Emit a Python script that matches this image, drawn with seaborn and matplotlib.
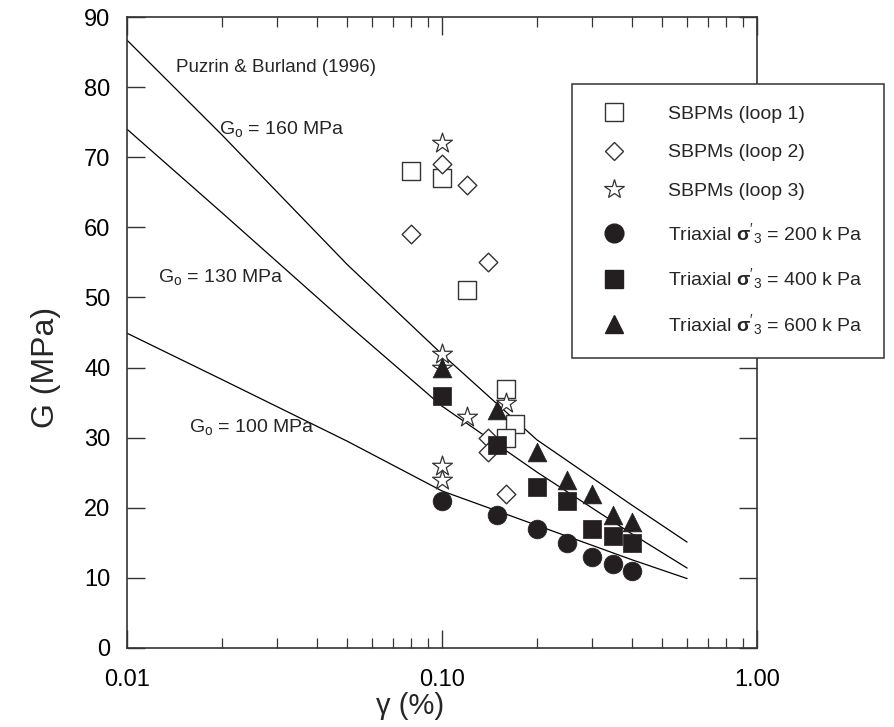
import matplotlib
matplotlib.use("Agg")
import matplotlib.pyplot as plt
from matplotlib.lines import Line2D
from matplotlib.ticker import FixedLocator, LogLocator, NullFormatter, NullLocator
import seaborn as sns

# SBPM loops (open symbols)
gamma_loop1 = [0.08, 0.10, 0.12, 0.16, 0.17, 0.16]
G_loop1 = [68, 67, 51, 37, 32, 30]
gamma_loop2 = [0.08, 0.10, 0.12, 0.14, 0.14, 0.14, 0.16]
G_loop2 = [59, 69, 66, 55, 30, 28, 22]
gamma_loop3 = [0.10, 0.10, 0.10, 0.12, 0.16, 0.10, 0.10]
G_loop3 = [72, 42, 40, 33, 35, 26, 24]

# triaxial tests (filled symbols)
gamma_tx = [0.10, 0.15, 0.20, 0.25, 0.30, 0.35, 0.40]
G_tx200 = [21, 19, 17, 15, 13, 12, 11]
G_tx400 = [36, 29, 23, 21, 17, 16, 15]
G_tx600 = [40, 34, 28, 24, 22, 19, 18]

# Puzrin & Burland (1996) curves
gamma_fit = [0.01, 0.02, 0.05, 0.10, 0.20, 0.40, 0.60]
G_fit160 = [86.7, 73.2, 54.7, 41.9, 29.7, 20.4, 15.1]
G_fit130 = [74.0, 62.1, 46.2, 34.5, 25.1, 16.3, 11.4]
G_fit100 = [44.9, 38.3, 29.5, 22.4, 17.5, 12.6, 9.9]

legend_labels = [
    "SBPMs (loop 1)",
    "SBPMs (loop 2)",
    "SBPMs (loop 3)",
    r"Triaxial $\mathbf{σ}'_3$ = 200 k Pa",
    r"Triaxial $\mathbf{σ}'_3$ = 400 k Pa",
    r"Triaxial $\mathbf{σ}'_3$ = 600 k Pa",
]
x_ticks = [0.01, 0.1, 1.0]
x_tick_labels = ["0.01", "0.10", "1.00"]
y_ticks = [0, 10, 20, 30, 40, 50, 60, 70, 80, 90]

sns.set_style("ticks")
plt.rcParams["font.family"] = ["Liberation Sans", "DejaVu Sans"]
plt.rcParams["mathtext.fontset"] = "custom"
plt.rcParams["mathtext.rm"] = "Liberation Sans"
plt.rcParams["mathtext.it"] = "Liberation Sans"
plt.rcParams["mathtext.bf"] = "Liberation Sans:bold"

ink = "#231f20"
edge = "#333333"

fig = plt.figure(figsize=(8.94, 7.27), dpi=100)
ax = fig.add_axes([127 / 894, 1 - 648 / 727, 630 / 894, 631 / 727])
ax.set_xscale("log")

# model curves
for G_fit in (G_fit160, G_fit130, G_fit100):
    sns.lineplot(x=gamma_fit, y=G_fit, estimator=None, sort=False,
                 color="black", linewidth=0.9, ax=ax, zorder=2)

# open symbols
sns.scatterplot(x=gamma_loop1, y=G_loop1, marker="s", s=13.5 ** 2,
                color="white", edgecolor=edge, linewidth=1.0, ax=ax, zorder=3)
sns.scatterplot(x=gamma_loop2, y=G_loop2, marker="D", s=9.5 ** 2,
                color="white", edgecolor=edge, linewidth=1.0, ax=ax, zorder=3)
sns.scatterplot(x=gamma_loop3, y=G_loop3, marker="*", s=15 ** 2,
                color="white", edgecolor=edge, linewidth=0.9, ax=ax, zorder=3)

# filled symbols
sns.scatterplot(x=gamma_tx, y=G_tx200, marker="o", s=13.5 ** 2,
                color=ink, edgecolor=ink, linewidth=0.5, ax=ax, zorder=4)
sns.scatterplot(x=gamma_tx, y=G_tx400, marker="s", s=13.5 ** 2,
                color=ink, edgecolor=ink, linewidth=0.5, ax=ax, zorder=4)
sns.scatterplot(x=gamma_tx, y=G_tx600, marker="^", s=13.5 ** 2,
                color=ink, edgecolor=ink, linewidth=0.5, ax=ax, zorder=4)

ax.set_xlim(0.01, 1.0)
ax.set_ylim(0, 90)

ax.xaxis.set_major_locator(FixedLocator(x_ticks))
ax.set_xticklabels(x_tick_labels)
ax.xaxis.set_minor_locator(LogLocator(base=10, subs=range(2, 10)))
ax.xaxis.set_minor_formatter(NullFormatter())
ax.set_yticks(y_ticks)
ax.yaxis.set_minor_locator(NullLocator())

ax.tick_params(which="both", direction="in", top=True, right=True,
               colors=edge, labelcolor="black", labelsize=17)
ax.tick_params(which="major", length=13, width=1.0)
ax.tick_params(axis="x", which="major", pad=15)
ax.tick_params(axis="y", which="major", pad=12)
ax.tick_params(which="minor", length=7, width=0.9)
for sp in ax.spines.values():
    sp.set_color(edge)
    sp.set_linewidth(1.2)

ax.set_xlabel("γ (%)", fontsize=21)
ax.set_ylabel("G (MPa)", fontsize=23)
ax.xaxis.set_label_coords(0.449, -0.07)
ax.yaxis.set_label_coords(-0.105, 0.444)

# annotations
ax.text(0.0143, 82.2, "Puzrin & Burland (1996)", fontsize=13.5, va="baseline", ha="left")
ax.text(0.0196, 73.3, r"G$_\mathrm{o}$ = 160 MPa", fontsize=14, va="baseline", ha="left")
ax.text(0.0125, 52.2, r"G$_\mathrm{o}$ = 130 MPa", fontsize=14, va="baseline", ha="left")
ax.text(0.0157, 30.8, r"G$_\mathrm{o}$ = 100 MPa", fontsize=14, va="baseline", ha="left")

# legend
handles = [
    Line2D([], [], ls="none", marker="s", ms=13, mfc="white", mec=edge, mew=1.0),
    Line2D([], [], ls="none", marker="D", ms=9.5, mfc="white", mec=edge, mew=1.0),
    Line2D([], [], ls="none", marker="*", ms=15, mfc="white", mec=edge, mew=0.9),
    Line2D([], [], ls="none", marker="o", ms=13.5, mfc=ink, mec=ink),
    Line2D([], [], ls="none", marker="s", ms=13.5, mfc=ink, mec=ink),
    Line2D([], [], ls="none", marker="^", ms=13.5, mfc=ink, mec=ink),
]
leg = ax.legend(handles, legend_labels, loc="upper left",
                bbox_to_anchor=(572 / 894, 1 - 84 / 727), bbox_transform=fig.transFigure,
                fontsize=14, frameon=True, fancybox=False, framealpha=1,
                edgecolor=edge, borderpad=1.1, borderaxespad=0, labelspacing=1.07,
                handlelength=2.1, handletextpad=1.75)
leg.get_frame().set_linewidth(1.1)

fig.savefig("out.png", dpi=100)
